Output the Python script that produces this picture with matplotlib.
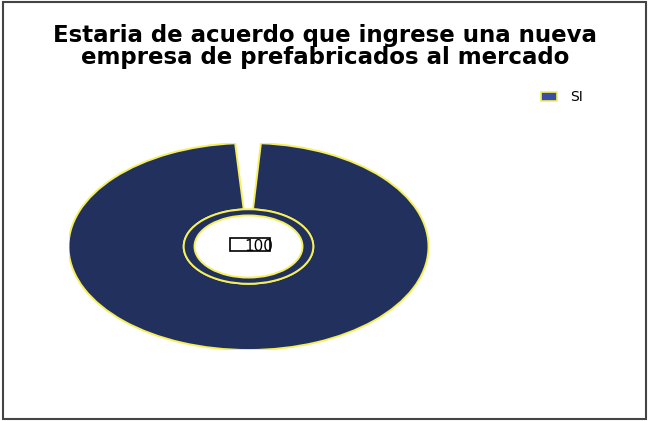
import matplotlib.pyplot as plt
from matplotlib.patches import Wedge, Patch, Rectangle

# datos de la encuesta
categorias = ['SI']
valores = [100]
etiqueta_centro = '100'

titulo = "Estaria de acuerdo que ingrese una nueva\nempresa de prefabricados al mercado"

color_relleno = '#22305e'
color_borde = '#f5f05a'
color_leyenda = '#3a4ea6'

plt.rcParams['font.family'] = ['DejaVu Sans']
fig = plt.figure(figsize=(6.49, 4.21), dpi=100)

# marco exterior del grafico
fig.patches.append(Rectangle((0.004, 0.005), 0.992, 0.99, transform=fig.transFigure,
                             fill=False, edgecolor='#444444', linewidth=1.5))

# titulo en dos renglones, renglones juntos
fig.text(0.501, 1 - 46.5 / 421, titulo, ha='center', va='center', fontsize=16.5,
         fontweight='bold', linespacing=0.93)

# ejes sin aspecto igual, el anillo queda como elipse
ax = fig.add_axes([68.5 / 649, (421 - 350) / 421, 360 / 649, 207 / 421])
ax.set_xlim(-1, 1)
ax.set_ylim(-1, 1)
ax.axis('off')

total = sum(valores)
hueco = 8.5  # separacion de la porcion en grados
inicio = 90
for v in valores:
    ang = 360 * v / total
    ax.add_patch(Wedge((0, 0), 1.0, inicio + hueco / 2, inicio + ang - hueco / 2 + 0.3,
                       width=0.64, facecolor=color_relleno, edgecolor=color_borde,
                       linewidth=1.4))
    inicio += ang

# anillo interior
ax.add_patch(Wedge((0, 0), 0.36, 0, 360, width=0.06, facecolor=color_relleno,
                   edgecolor=color_borde, linewidth=1.4))

# etiqueta de valor en el centro
ax.add_patch(Rectangle((-0.103, -0.04), 0.222, 0.12, fill=False,
                       edgecolor='black', linewidth=1.2))
ax.text(-0.025, 0.0, etiqueta_centro, ha='left', va='center', fontsize=11)

handles = [Patch(facecolor=color_leyenda, edgecolor=color_borde, linewidth=1.2)]
fig.legend(handles, categorias, loc='center left', bbox_to_anchor=(0.815, 0.769),
           frameon=False, fontsize=10, handlelength=1.1, handleheight=0.7,
           handletextpad=1.0)

fig.savefig('out.png', dpi=100)
